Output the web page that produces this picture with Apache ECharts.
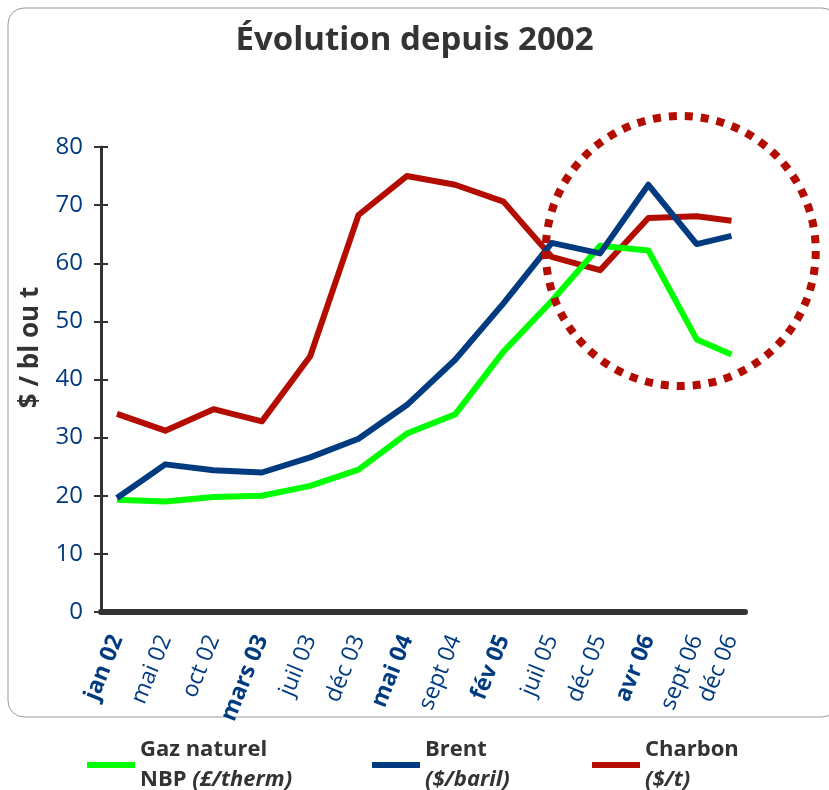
<!DOCTYPE html>
<html>
<head>
<meta charset="utf-8">
<title>Évolution depuis 2002</title>
<script src="https://cdn.jsdelivr.net/npm/echarts@6/dist/echarts.min.js"></script>
<style>
  html, body { margin: 0; padding: 0; background: #fff; }
  #chart { width: 829px; height: 790px; }
</style>
</head>
<body>
<div id="chart"></div>
<script>
const periodes = [0, 1, 2, 3, 4, 5, 6, 7, 8, 9, 10, 11, 12, 12.72];
const etiquettes = ['jan 02', 'mai 02', 'oct 02', 'mars 03', 'juil 03', 'déc 03', 'mai 04',
  'sept 04', 'fév 05', 'juil 05', 'déc 05', 'avr 06', 'sept 06', 'déc 06'];
const etiquettesGras = ['jan 02', 'mars 03', 'mai 04', 'fév 05', 'avr 06'];

const gaz = [19.3, 19.0, 19.8, 20.0, 21.7, 24.5, 30.7, 34.0, 44.8, 53.5, 63.0, 62.2, 46.9, 44.3];
const brent = [19.6, 25.4, 24.4, 24.0, 26.6, 29.8, 35.6, 43.4, 53.1, 63.5, 61.7, 73.5, 63.3, 64.7];
const charbon = [34.1, 31.2, 34.9, 32.8, 44.0, 68.3, 75.0, 73.5, 70.6, 61.1, 58.8, 67.8, 68.1, 67.3];

const police = 'Open Sans';
const bleu = '#003b80';
const gris = '#333333';

function points(valeurs) {
  return periodes.map((p, i) => [p, valeurs[i]]);
}

function legende(nom, gauche, texte) {
  return {
    data: [nom],
    left: gauche,
    top: 735,
    padding: 0,
    icon: 'rect',
    itemWidth: 48,
    itemHeight: 6,
    selectedMode: false,
    formatter: () => texte,
    textStyle: {
      fontFamily: police, fontSize: 22, fontWeight: 'bold', color: gris, lineHeight: 30,
      rich: {
        it: { fontFamily: police, fontSize: 22, fontWeight: 'bold', fontStyle: 'italic', color: gris, lineHeight: 30 },
        n: { fontFamily: police, fontSize: 22, fontWeight: 'bold', color: gris, lineHeight: 30 }
      }
    }
  };
}

let myChart = echarts.init(document.getElementById('chart'));
let option = {
  backgroundColor: '#fff',
  animation: false,
  title: {
    text: 'Évolution depuis 2002',
    left: 'center',
    top: 19,
    textStyle: { fontFamily: police, fontSize: 33, fontWeight: 'bold', color: gris }
  },
  legend: [
    legende('Gaz naturel', 87, '{n|Gaz naturel}\n{n|NBP }{it|(£/therm)}'),
    legende('Brent', 372, '{n|Brent}\n{it|($/baril)}'),
    legende('Charbon', 592, '{n|Charbon}\n{it|($/t)}')
  ],
  grid: [
    { left: 101, right: 84, top: 147, bottom: 178 },
    { left: 101, right: 84, top: 147, bottom: 178 }
  ],
  xAxis: [
    {
      type: 'value',
      min: -0.33,
      max: 13,
      axisLine: { lineStyle: { color: gris, width: 6 } },
      axisTick: { show: false },
      splitLine: { show: false },
      axisLabel: {
        customValues: periodes,
        rotate: 68,
        margin: 24,
        fontFamily: police,
        fontSize: 23,
        color: bleu,
        formatter: v => {
          let i = 0;
          periodes.forEach((p, k) => { if (Math.abs(p - v) < Math.abs(periodes[i] - v)) i = k; });
          let t = etiquettes[i];
          return etiquettesGras.indexOf(t) >= 0 ? '{b|' + t + '}' : t;
        },
        rich: { b: { fontFamily: police, fontSize: 23, fontWeight: 'bold', color: bleu } }
      }
    },
    { gridIndex: 1, type: 'value', min: -0.33, max: 13, show: false }
  ],
  yAxis: [
    {
      type: 'value',
      min: 0,
      max: 80,
      interval: 10,
      name: '$ / bl ou t',
      nameLocation: 'middle',
      nameRotate: 90,
      nameGap: 57,
      nameTextStyle: { fontFamily: police, fontSize: 26, fontWeight: 'bold', color: gris, padding: [0, 0, 0, 64] },
      axisLine: { show: true, onZero: false, lineStyle: { color: gris, width: 3 } },
      axisTick: { show: true, length: 7, lineStyle: { color: gris, width: 2 } },
      splitLine: { show: false },
      axisLabel: { margin: 18, fontFamily: police, fontSize: 24, color: bleu }
    },
    {
      gridIndex: 1,
      type: 'value',
      min: 0,
      max: 80,
      interval: 10,
      axisLine: { show: false, onZero: false },
      axisLabel: { show: false },
      splitLine: { show: false },
      axisTick: { show: true, inside: true, length: 7, lineStyle: { color: gris, width: 2 } }
    }
  ],
  series: [
    {
      name: 'Charbon', type: 'line', data: points(charbon), showSymbol: false,
      lineStyle: { color: '#b30d02', width: 6, join: 'round' }, itemStyle: { color: '#b30d02' }
    },
    {
      name: 'Gaz naturel', type: 'line', data: points(gaz), showSymbol: false,
      lineStyle: { color: '#00ff00', width: 6, join: 'round' }, itemStyle: { color: '#00ff00' }
    },
    {
      name: 'Brent', type: 'line', data: points(brent), showSymbol: false,
      lineStyle: { color: bleu, width: 6, join: 'round' }, itemStyle: { color: bleu }
    }
  ]
};
myChart.setOption(option);

// cadre arrondi et cercle pointillé autour de la période récente
let centre = myChart.convertToPixel({ xAxisIndex: 0, yAxisIndex: 0 }, [11.67, 62.1]);
myChart.setOption({
  graphic: [
    {
      type: 'rect', silent: true, z: -1,
      shape: { x: 8, y: 8, width: 830, height: 709, r: 16 },
      style: { fill: null, stroke: '#9a9a9a', lineWidth: 1 }
    },
    {
      type: 'circle', silent: true, z: 10,
      shape: { cx: centre[0], cy: centre[1], r: 135 },
      style: { fill: null, stroke: '#b30d02', lineWidth: 8, lineDash: [8, 8] }
    }
  ]
});
</script>
</body>
</html>
